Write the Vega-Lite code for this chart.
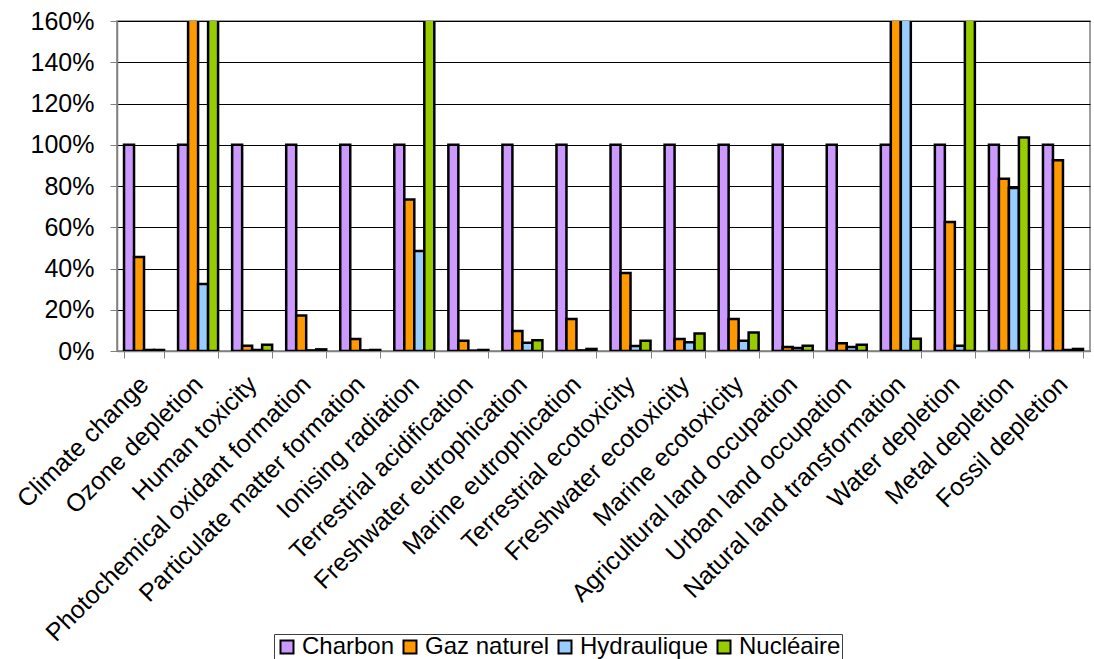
{
  "$schema": "https://vega.github.io/schema/vega-lite/v6.json",
  "width": 973,
  "height": 330,
  "autosize": {"type": "none"},
  "padding": {"left": 117, "top": 21, "right": 4, "bottom": 308},
  "background": "white",
  "config": {
    "font": "Liberation Sans",
    "view": {"stroke": "#808080", "strokeWidth": 1.5}
  },
  "data": {
    "values": [
      {"cat": "Climate change", "src": "Charbon", "v": 1.0},
      {"cat": "Climate change", "src": "Gaz naturel", "v": 0.456},
      {"cat": "Climate change", "src": "Hydraulique", "v": 0.005},
      {"cat": "Climate change", "src": "Nucléaire", "v": 0.005},
      {"cat": "Ozone depletion", "src": "Charbon", "v": 1.0},
      {"cat": "Ozone depletion", "src": "Gaz naturel", "v": 2.5},
      {"cat": "Ozone depletion", "src": "Hydraulique", "v": 0.325},
      {"cat": "Ozone depletion", "src": "Nucléaire", "v": 2.5},
      {"cat": "Human toxicity", "src": "Charbon", "v": 1.0},
      {"cat": "Human toxicity", "src": "Gaz naturel", "v": 0.025},
      {"cat": "Human toxicity", "src": "Hydraulique", "v": 0.005},
      {"cat": "Human toxicity", "src": "Nucléaire", "v": 0.03},
      {"cat": "Photochemical oxidant formation", "src": "Charbon", "v": 1.0},
      {"cat": "Photochemical oxidant formation", "src": "Gaz naturel", "v": 0.172},
      {"cat": "Photochemical oxidant formation", "src": "Hydraulique", "v": 0.003},
      {"cat": "Photochemical oxidant formation", "src": "Nucléaire", "v": 0.008},
      {"cat": "Particulate matter formation", "src": "Charbon", "v": 1.0},
      {"cat": "Particulate matter formation", "src": "Gaz naturel", "v": 0.058},
      {"cat": "Particulate matter formation", "src": "Hydraulique", "v": 0.003},
      {"cat": "Particulate matter formation", "src": "Nucléaire", "v": 0.005},
      {"cat": "Ionising radiation", "src": "Charbon", "v": 1.0},
      {"cat": "Ionising radiation", "src": "Gaz naturel", "v": 0.735},
      {"cat": "Ionising radiation", "src": "Hydraulique", "v": 0.485},
      {"cat": "Ionising radiation", "src": "Nucléaire", "v": 2.5},
      {"cat": "Terrestrial acidification", "src": "Charbon", "v": 1.0},
      {"cat": "Terrestrial acidification", "src": "Gaz naturel", "v": 0.05},
      {"cat": "Terrestrial acidification", "src": "Hydraulique", "v": 0.002},
      {"cat": "Terrestrial acidification", "src": "Nucléaire", "v": 0.005},
      {"cat": "Freshwater eutrophication", "src": "Charbon", "v": 1.0},
      {"cat": "Freshwater eutrophication", "src": "Gaz naturel", "v": 0.097},
      {"cat": "Freshwater eutrophication", "src": "Hydraulique", "v": 0.04},
      {"cat": "Freshwater eutrophication", "src": "Nucléaire", "v": 0.052},
      {"cat": "Marine eutrophication", "src": "Charbon", "v": 1.0},
      {"cat": "Marine eutrophication", "src": "Gaz naturel", "v": 0.155},
      {"cat": "Marine eutrophication", "src": "Hydraulique", "v": 0.003},
      {"cat": "Marine eutrophication", "src": "Nucléaire", "v": 0.01},
      {"cat": "Terrestrial ecotoxicity", "src": "Charbon", "v": 1.0},
      {"cat": "Terrestrial ecotoxicity", "src": "Gaz naturel", "v": 0.378},
      {"cat": "Terrestrial ecotoxicity", "src": "Hydraulique", "v": 0.024},
      {"cat": "Terrestrial ecotoxicity", "src": "Nucléaire", "v": 0.05},
      {"cat": "Freshwater ecotoxicity", "src": "Charbon", "v": 1.0},
      {"cat": "Freshwater ecotoxicity", "src": "Gaz naturel", "v": 0.058},
      {"cat": "Freshwater ecotoxicity", "src": "Hydraulique", "v": 0.042},
      {"cat": "Freshwater ecotoxicity", "src": "Nucléaire", "v": 0.085},
      {"cat": "Marine ecotoxicity", "src": "Charbon", "v": 1.0},
      {"cat": "Marine ecotoxicity", "src": "Gaz naturel", "v": 0.155},
      {"cat": "Marine ecotoxicity", "src": "Hydraulique", "v": 0.05},
      {"cat": "Marine ecotoxicity", "src": "Nucléaire", "v": 0.09},
      {"cat": "Agricultural land occupation", "src": "Charbon", "v": 1.0},
      {"cat": "Agricultural land occupation", "src": "Gaz naturel", "v": 0.02},
      {"cat": "Agricultural land occupation", "src": "Hydraulique", "v": 0.015},
      {"cat": "Agricultural land occupation", "src": "Nucléaire", "v": 0.025},
      {"cat": "Urban land occupation", "src": "Charbon", "v": 1.0},
      {"cat": "Urban land occupation", "src": "Gaz naturel", "v": 0.037},
      {"cat": "Urban land occupation", "src": "Hydraulique", "v": 0.02},
      {"cat": "Urban land occupation", "src": "Nucléaire", "v": 0.03},
      {"cat": "Natural land transformation", "src": "Charbon", "v": 1.0},
      {"cat": "Natural land transformation", "src": "Gaz naturel", "v": 2.5},
      {"cat": "Natural land transformation", "src": "Hydraulique", "v": 2.5},
      {"cat": "Natural land transformation", "src": "Nucléaire", "v": 0.06},
      {"cat": "Water depletion", "src": "Charbon", "v": 1.0},
      {"cat": "Water depletion", "src": "Gaz naturel", "v": 0.625},
      {"cat": "Water depletion", "src": "Hydraulique", "v": 0.025},
      {"cat": "Water depletion", "src": "Nucléaire", "v": 2.5},
      {"cat": "Metal depletion", "src": "Charbon", "v": 1.0},
      {"cat": "Metal depletion", "src": "Gaz naturel", "v": 0.835},
      {"cat": "Metal depletion", "src": "Hydraulique", "v": 0.79},
      {"cat": "Metal depletion", "src": "Nucléaire", "v": 1.035},
      {"cat": "Fossil depletion", "src": "Charbon", "v": 1.0},
      {"cat": "Fossil depletion", "src": "Gaz naturel", "v": 0.925},
      {"cat": "Fossil depletion", "src": "Hydraulique", "v": 0.005},
      {"cat": "Fossil depletion", "src": "Nucléaire", "v": 0.01}
    ]
  },
  "mark": {"type": "bar", "clip": true, "stroke": "black", "strokeWidth": 2.5},
  "encoding": {
    "x": {
      "field": "cat",
      "type": "nominal",
      "sort": null,
      "scale": {"paddingInner": 0.26, "paddingOuter": 0.13},
      "axis": {
        "title": null,
        "labelAngle": -45,
        "labelAlign": "right",
        "labelBaseline": "middle",
        "labelFontSize": 25,
        "labelColor": "black",
        "labelPadding": 22,
        "labelDx": 4,
        "labelLimit": 0,
        "tickBand": "extent",
        "tickColor": "#808080",
        "tickSize": 7,
        "domainColor": "#808080",
        "domainWidth": 1.5,
        "grid": false
      }
    },
    "xOffset": {
      "field": "src",
      "type": "nominal",
      "sort": ["Charbon", "Gaz naturel", "Hydraulique", "Nucléaire"],
      "scale": {"paddingInner": 0, "paddingOuter": 0}
    },
    "y": {
      "field": "v",
      "type": "quantitative",
      "scale": {"domain": [0, 1.6], "nice": false},
      "axis": {
        "title": null,
        "format": ".0%",
        "values": [0, 0.2, 0.4, 0.6, 0.8, 1.0, 1.2, 1.4, 1.6],
        "labelFontSize": 25,
        "labelColor": "black",
        "labelPadding": 16,
        "tickColor": "#808080",
        "tickSize": 7,
        "domainColor": "#808080",
        "domainWidth": 1.5,
        "gridColor": "black",
        "gridOpacity": 1,
        "gridWidth": 1
      }
    },
    "color": {
      "field": "src",
      "type": "nominal",
      "sort": ["Charbon", "Gaz naturel", "Hydraulique", "Nucléaire"],
      "scale": {
        "domain": ["Charbon", "Gaz naturel", "Hydraulique", "Nucléaire"],
        "range": ["#CC99FF", "#FF9900", "#99CCFF", "#99CC00"]
      },
      "legend": {
        "title": null,
        "orient": "none",
        "direction": "horizontal",
        "legendX": 157,
        "legendY": 613,
        "symbolType": "square",
        "symbolSize": 169,
        "symbolStrokeColor": "black",
        "symbolStrokeWidth": 2,
        "symbolOpacity": 1,
        "labelFontSize": 24,
        "labelColor": "black",
        "labelOffset": 3,
        "columnPadding": 3,
        "strokeColor": "#404040",
        "padding": 1
      }
    }
  }
}
